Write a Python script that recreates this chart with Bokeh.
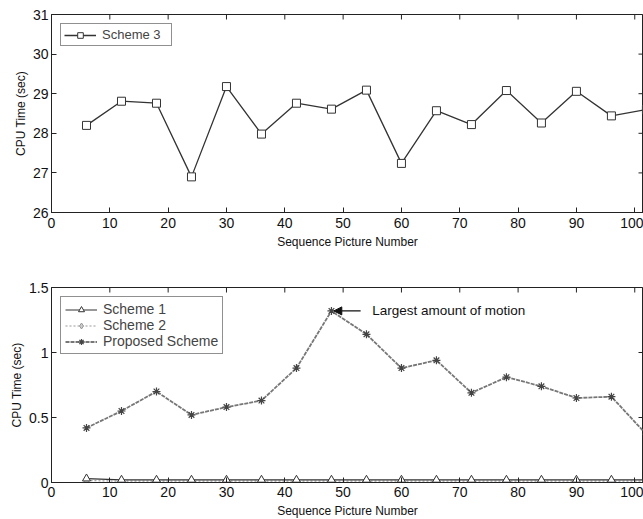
import math
from bokeh.plotting import figure
from bokeh.models import Range1d, Legend, LegendItem, Arrow, NormalHead, Label, FixedTicker
from bokeh.layouts import column
from bokeh.embed import file_html
from bokeh.resources import INLINE

# ---------------- data ----------------
frames = [6, 12, 18, 24, 30, 36, 42, 48, 54, 60, 66, 72, 78, 84, 90, 96, 102]
scheme3 = [28.2, 28.81, 28.76, 26.9, 29.18, 27.98, 28.76, 28.61, 29.09, 27.24,
           28.57, 28.22, 29.08, 28.26, 29.06, 28.44, 28.6]
scheme1 = [0.03, 0.02, 0.02, 0.02, 0.02, 0.02, 0.02, 0.02, 0.02, 0.02,
           0.02, 0.02, 0.02, 0.02, 0.02, 0.02, 0.02]
scheme2 = [0.015, 0.01, 0.01, 0.01, 0.01, 0.01, 0.01, 0.01, 0.01, 0.01,
           0.01, 0.01, 0.01, 0.01, 0.01, 0.01, 0.01]
proposed = [0.42, 0.55, 0.70, 0.52, 0.58, 0.63, 0.88, 1.32, 1.14, 0.88,
            0.94, 0.69, 0.81, 0.74, 0.65, 0.66, 0.37]
x_ticks = [0, 10, 20, 30, 40, 50, 60, 70, 80, 90, 100]
y_ticks_top = [26, 27, 28, 29, 30, 31]
y_ticks_bot = [0, 0.5, 1, 1.5]
annotation = "Largest amount of motion"

FONT = "Liberation Sans"
INK = "#222222"


def style_axes(p, yticks, xlabel, ylabel):
    for ax in (p.xaxis[0], p.yaxis[0]):
        ax.major_tick_in = 5
        ax.major_tick_out = 0
        ax.minor_tick_line_color = None
        ax.axis_line_color = INK
        ax.major_tick_line_color = INK
        ax.major_label_text_font = FONT
        ax.major_label_text_font_size = "14px"
        ax.major_label_text_color = "#111111"
        ax.axis_label_text_font = FONT
        ax.axis_label_text_font_size = "12px"
        ax.axis_label_text_font_style = "normal"
        ax.axis_label_text_color = "#111111"
        ax.major_label_standoff = 3
        ax.axis_label_standoff = 2
    p.xaxis[0].major_label_standoff = 5
    p.xaxis[0].axis_label_standoff = 4
    p.xaxis[0].ticker = FixedTicker(ticks=x_ticks)
    p.yaxis[0].ticker = FixedTicker(ticks=yticks)
    p.xaxis[0].axis_label = xlabel
    p.yaxis[0].axis_label = ylabel
    p.xgrid.grid_line_color = None
    p.ygrid.grid_line_color = None
    p.outline_line_color = INK
    # inward tick marks on the top and right edges of the frame
    xr, yr = p.x_range, p.y_range
    p.ray(x=x_ticks, y=[yr.end] * len(x_ticks), length=5, length_units="screen",
          angle=-math.pi / 2, line_color=INK, line_width=1)
    p.ray(x=[xr.end] * len(yticks), y=yticks, length=5, length_units="screen",
          angle=math.pi, line_color=INK, line_width=1)


# ---------------- top figure ----------------
p1 = figure(frame_width=592, frame_height=198, output_backend="svg",
            toolbar_location=None, x_range=Range1d(0, 101.5), y_range=Range1d(26, 31),
            min_border_left=51, min_border_right=0, min_border_top=14, min_border_bottom=48,
            background_fill_color="white", border_fill_color="white")
style_axes(p1, y_ticks_top, "Sequence Picture Number", "CPU Time (sec)")

r3l = p1.line(frames, scheme3, line_color="#333333", line_width=1.3)
r3m = p1.scatter(frames, scheme3, marker="square", size=8, fill_color="white",
                 line_color="#333333", line_width=1)
leg1 = Legend(items=[LegendItem(label="Scheme 3", renderers=[r3l, r3m])],
              location="top_left", margin=9, padding=3, spacing=0,
              label_text_font=FONT, label_text_font_size="13px",
              label_height=14, glyph_height=14, label_width=66,
              border_line_color=INK, border_line_width=1,
              glyph_width=32, label_standoff=6)
p1.add_layout(leg1)

# ---------------- bottom figure ----------------
p2 = figure(frame_width=592, frame_height=195, output_backend="svg",
            toolbar_location=None, x_range=Range1d(0, 101.5), y_range=Range1d(0, 1.5),
            min_border_left=51, min_border_right=0, min_border_top=27, min_border_bottom=37,
            background_fill_color="white", border_fill_color="white")
style_axes(p2, y_ticks_bot, "Sequence Picture Number", "CPU Time (sec)")
p2.xaxis[0].major_label_standoff = 4
p2.yaxis[0].major_label_overrides = {0: "0", 0.5: "0.5", 1: "1", 1.5: "1.5"}

r2l = p2.line(frames, scheme2, line_color="#999999", line_width=1.2, line_dash="2 2")
r2m = p2.scatter(frames, scheme2, marker="diamond", size=9, fill_color="#cccccc",
                 line_color="#999999")
r1l = p2.line(frames, scheme1, line_color="#333333", line_width=1.2)
r1m = p2.scatter(frames, scheme1, marker="triangle", size=8, fill_color="white",
                 line_color="#333333")
rpl = p2.line(frames, proposed, line_color="#777777", line_width=1.8, line_dash="4 1")
rpm = p2.scatter(frames, proposed, marker="asterisk", size=8,
                 line_color="#444444", line_width=1.2)

leg2 = Legend(items=[LegendItem(label="Scheme 1", renderers=[r1l, r1m]),
                     LegendItem(label="Scheme 2", renderers=[r2l, r2m]),
                     LegendItem(label="Proposed Scheme", renderers=[rpl, rpm])],
              location="top_left", margin=9, padding=4, spacing=0,
              label_text_font=FONT, label_text_font_size="14px",
              label_height=15, glyph_height=15,
              border_line_color=INK, border_line_width=1,
              glyph_width=32, label_standoff=6)
p2.add_layout(leg2)

peak_x = frames[proposed.index(max(proposed))]
peak_y = max(proposed)
p2.add_layout(Arrow(end=NormalHead(size=8, fill_color="#111111", line_color="#111111"),
                    x_start=peak_x + 5, y_start=peak_y, x_end=peak_x + 0.4, y_end=peak_y,
                    line_color="#111111", line_width=1.2))
p2.add_layout(Label(x=peak_x + 7, y=peak_y, text=annotation, text_font=FONT,
                    text_font_size="13.5px", text_baseline="middle", text_color="#111111"))

layout = column(p1, p2, spacing=0)
open("out.html", "w").write(file_html(layout, INLINE))
